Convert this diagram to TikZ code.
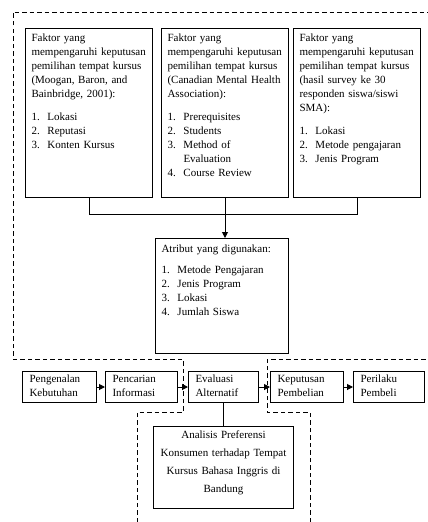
\documentclass[tikz,border=0pt]{standalone}
\usepackage{fontspec}
\setmainfont{Liberation Serif}
\usetikzlibrary{arrows.meta,calc}
\newcommand{\itm}[1]{\makebox[16pt][l]{#1}}
\begin{document}
\begin{tikzpicture}[x=1pt,y=-1pt,
  box/.style={draw, line width=1pt, anchor=north west, inner xsep=6pt, inner ysep=3pt,
    align=left, font=\fontsize{11}{14}\selectfont},
  topbox/.style={box, text width=115pt, text height=9.7pt, text depth=153.3pt},
  rowbox/.style={box, inner xsep=7pt, text height=8pt, text depth=17pt},
  conn/.style={line width=1pt},
  arr/.style={line width=1pt, -{Triangle[length=6pt,width=6pt]}},
  dashline/.style={line width=1pt, dash pattern=on 4.5pt off 3pt}
]
\useasboundingbox (0,0) rectangle (428,522);

% outer dashed boundaries
\draw[dashline] (137,522) -- (137,412) -- (183,412) -- (183,359) -- (13,359) -- (13,12) -- (428,12);
\draw[dashline] (310,522) -- (310,412) -- (267,412) -- (267,359) -- (428,359);

% top factor boxes
\node[topbox] (f1) at (25,28) {Faktor yang\\
mempengaruhi keputusan\\
pemilihan tempat kursus\\
(Moogan, Baron, and\\
Bainbridge, 2001):\\[9pt]
\itm{1.}Lokasi\\
\itm{2.}Reputasi\\
\itm{3.}Konten Kursus};

\node[topbox] (f2) at (161,28) {Faktor yang\\
mempengaruhi keputusan\\
pemilihan tempat kursus\\
(Canadian Mental Health\\
Association):\\[9pt]
\itm{1.}Prerequisites\\
\itm{2.}Students\\
\itm{3.}Method of\\
\hspace*{16pt}Evaluation\\
\itm{4.}Course Review};

\node[topbox] (f3) at (293,28) {Faktor yang\\
mempengaruhi keputusan\\
pemilihan tempat kursus\\
(hasil survey ke 30\\
responden siswa/siswi\\
SMA):\\[9pt]
\itm{1.}Lokasi\\
\itm{2.}Metode pengajaran\\
\itm{3.}Jenis Program};

% attribute box
\node[box, text width=121pt, text height=11pt, text depth=98pt] (atr) at (155,238) {Atribut yang digunakan:\\[7pt]
\itm{1.}Metode Pengajaran\\
\itm{2.}Jenis Program\\
\itm{3.}Lokasi\\
\itm{4.}Jumlah Siswa};

% connectors from factor boxes
\coordinate (jm) at (220,214);
\draw[conn] (f1.south) -- (f1.south |- jm) -- (f3.south |- jm) -- (f3.south);
\draw[arr] (f2.south) -- (f2.south |- atr.north);

% bottom process row
\node[rowbox, text width=60pt] (b1) at (22,371) {Pengenalan\\Kebutuhan};
\node[rowbox, text width=58pt] (b2) at (105,371) {Pencarian\\Informasi};
\node[rowbox, text width=56pt] (b3) at (188,371) {Evaluasi\\Alternatif};
\node[rowbox, text width=59pt] (b4) at (270,371) {Keputusan\\Pembelian};
\node[rowbox, text width=57pt] (b5) at (353,371) {Perilaku\\Pembeli};

\draw[arr] (b1) -- (b2);
\draw[arr] (b2) -- (b3);
\draw[arr] (b3) -- (b4);
\draw[arr] (b4) -- (b5);

% analysis box
\node[box, align=center, text width=128pt, text height=9pt, text depth=67pt,
  font=\fontsize{11}{18}\selectfont] (an) at (153,426) {Analisis Preferensi\\
Konsumen terhadap Tempat\\
Kursus Bahasa Inggris di\\
Bandung};
\draw[conn] (b3.south) -- (an.north);
\end{tikzpicture}
\end{document}
